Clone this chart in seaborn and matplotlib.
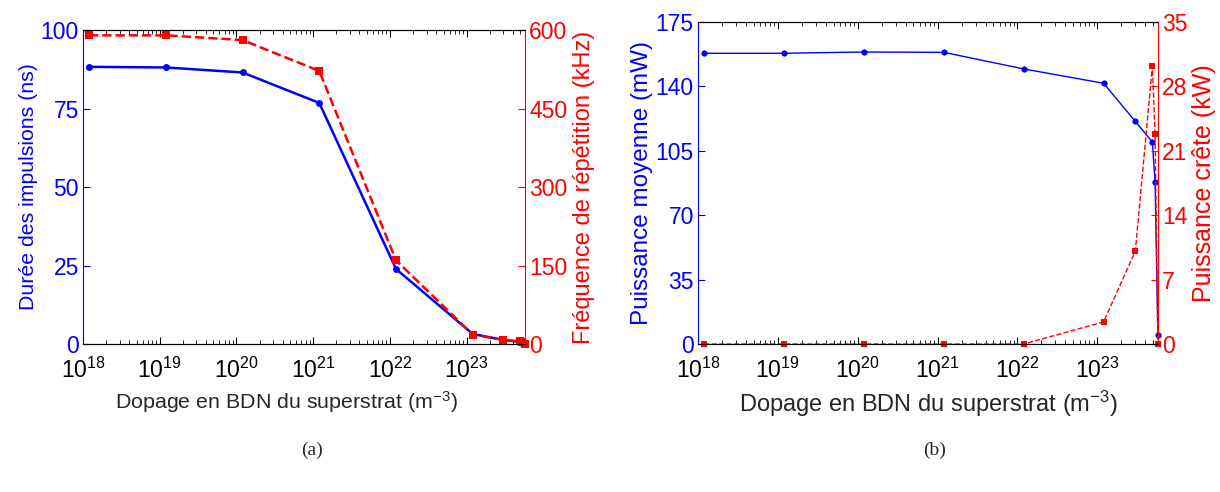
import numpy as np
import pandas as pd
import seaborn as sns
import matplotlib.pyplot as plt

# doping of the superstrate (m^-3), shared by both panels
dopage = [1.2e18, 1.2e19, 1.2e20, 1.2e21, 1.2e22, 1.2e23, 3.0e23, 4.9e23, 5.3e23, 5.75e23]

# panel (a)
duree_ns = [88.3, 88.1, 86.5, 76.8, 23.9, 3.2, 1.3, 0.7, 0.3, 0.0]
freq_khz = [590, 590, 581, 522, 160, 18, 8, 5, 3, 0]

# panel (b)
p_moy_mw = [158.0, 158.0, 158.7, 158.5, 149.5, 141.7, 121.0, 109.8, 88.0, 5.0]
p_crete_kw = [0, 0, 0, 0, 0, 2.4, 10.1, 30.2, 22.8, 0]

xticks = [1e18, 1e19, 1e20, 1e21, 1e22, 1e23]
xticklabels = ['$\\mathregular{10^{%d}}$' % e for e in range(18, 24)]
yticks_a_left = [0, 25, 50, 75, 100]
yticks_a_right = [0, 150, 300, 450, 600]
yticks_b_left = [0, 35, 70, 105, 140, 175]
yticks_b_right = [0, 7, 14, 21, 28, 35]

sns.set_style('white')
plt.rcParams['font.family'] = ['Liberation Sans', 'DejaVu Sans']
plt.rcParams['mathtext.default'] = 'regular'

df = pd.DataFrame({'dopage': dopage, 'duree': duree_ns, 'freq': freq_khz,
                   'pmoy': p_moy_mw, 'pcrete': p_crete_kw})

fig = plt.figure(figsize=(12.2, 4.92), dpi=100)
ax_a = fig.add_axes([0.068, 0.3008, 0.3623, 0.638])
ax_b = fig.add_axes([0.5721, 0.3008, 0.377, 0.6545])

TICK = 16.5


def panel(ax, ycol_l, ycol_r, yl, yr, lab_l, lab_r, lw, ms_b, ms_r,
          fs_l, fs_r, fs_x, pad_l, pad_r):
    sns.lineplot(data=df, x='dopage', y=ycol_l, ax=ax, color='blue', marker='o',
                 markersize=ms_b, markeredgewidth=0, linewidth=lw, clip_on=False)
    ax.set_xscale('log')
    ax.set_xlim(1e18, dopage[-1])
    ax.set_ylim(yl[0], yl[-1])
    ax.set_yticks(yl)
    ax.set_xticks(xticks)
    ax.set_xticklabels(xticklabels)
    ax.tick_params(axis='x', which='both', direction='in', top=True, bottom=True,
                   labelsize=TICK, colors='black', pad=10)
    ax.tick_params(axis='x', which='major', length=5)
    ax.tick_params(axis='x', which='minor', length=3)
    ax.tick_params(axis='y', direction='in', length=5, labelsize=TICK,
                   colors='blue', left=True, right=False, pad=3)
    ax.set_ylabel(lab_l, color='blue', fontsize=fs_l, labelpad=pad_l)
    ax.set_xlabel('Dopage en BDN du superstrat (m$^{-3}$)', fontsize=fs_x, labelpad=3)
    for s in ['top', 'bottom']:
        ax.spines[s].set_color('black')
    ax.spines['left'].set_color('blue')
    ax.spines['right'].set_visible(False)

    ax2 = ax.twinx()
    sns.lineplot(data=df, x='dopage', y=ycol_r, ax=ax2, color='red', marker='s',
                 markersize=ms_r, markeredgewidth=0, linewidth=lw, linestyle='--',
                 clip_on=False)
    ax2.set_xlim(1e18, dopage[-1])
    ax2.set_ylim(yr[0], yr[-1])
    ax2.set_yticks(yr)
    ax2.tick_params(axis='y', direction='in', length=5, labelsize=TICK,
                    colors='red', pad=3)
    ax2.set_ylabel(lab_r, color='red', fontsize=fs_r, labelpad=pad_r)
    ax2.spines['right'].set_color('red')
    ax2.spines['left'].set_visible(False)
    ax2.spines['top'].set_color('black')
    ax2.spines['bottom'].set_color('black')
    ax2.set_xlabel('')
    return ax2


panel(ax_a, 'duree', 'freq', yticks_a_left, yticks_a_right,
      'Durée des impulsions (ns)', 'Fréquence de répétition (kHz)', 1.8, 5, 6,
      15.3, 17, 15.4, 2, 4)
panel(ax_b, 'pmoy', 'pcrete', yticks_b_left, yticks_b_right,
      'Puissance moyenne (mW)', 'Puissance crête (kW)', 1.0, 4.5, 5,
      17.5, 18, 17, 2, 3)
ax_a.xaxis.set_label_coords(0.46, -0.145)
ax_b.xaxis.set_label_coords(0.5, -0.14)

fig.text(0.2557, 0.085, '(a)', ha='center', va='center', fontsize=14,
         family=['Liberation Serif', 'DejaVu Serif'])
fig.text(0.7664, 0.085, '(b)', ha='center', va='center', fontsize=14,
         family=['Liberation Serif', 'DejaVu Serif'])

fig.savefig('out.png', dpi=100)
